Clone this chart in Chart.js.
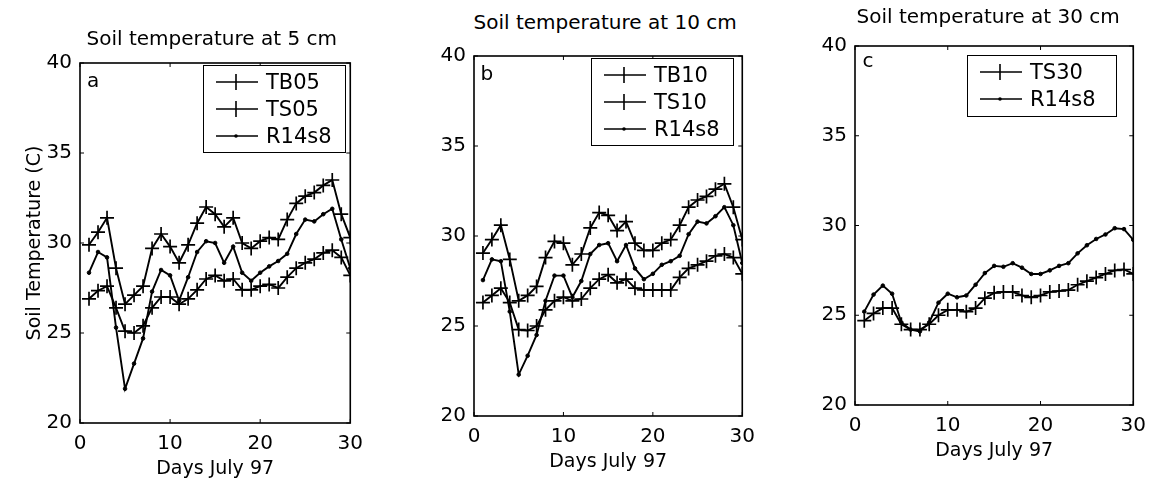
<!DOCTYPE html>
<html><head><meta charset="utf-8">
<script src="https://cdn.jsdelivr.net/npm/chart.js@4.4.0/dist/chart.umd.min.js"></script>
<style>
body{margin:0;background:#fff;width:1167px;height:491px;overflow:hidden;position:relative;font-family:"DejaVu Sans",sans-serif;color:#000}
canvas{position:absolute}
.t{position:absolute;font-size:20px;white-space:nowrap;line-height:24px}
.lg{position:absolute;border:1.5px solid #000;background:#fff;box-sizing:border-box}
.row{position:absolute;left:0;height:26px;width:100%}
.row svg{position:absolute;left:10px;top:0}
.row span{position:absolute;left:62px;top:0;font-size:21px;line-height:26px}
</style></head><body>
<script>
// ---- data ----
const days = [1,2,3,4,5,6,7,8,9,10,11,12,13,14,15,16,17,18,19,20,21,22,23,24,25,26,27,28,29,30];
const TB05 = [29.9,30.6,31.4,28.6,26.6,27.1,27.6,29.7,30.5,29.8,28.9,29.9,31.1,32.0,31.6,30.9,31.4,30.0,29.7,30.1,30.3,30.2,31.3,32.2,32.6,32.8,33.2,33.5,31.6,30.3];
const TS05 = [26.9,27.35,27.6,26.4,25.1,25.0,25.4,26.4,27.0,27.0,26.6,26.9,27.4,28.0,28.2,27.9,28.0,27.4,27.4,27.6,27.7,27.5,28.1,28.6,28.9,29.1,29.45,29.6,29.2,28.2];
const R14s8_5 = [28.35,29.5,29.2,25.3,21.9,23.3,24.7,27.3,28.5,28.2,26.8,28.1,29.5,30.1,30.0,28.9,29.8,28.35,27.9,28.35,28.7,29.0,29.4,30.5,31.3,31.2,31.6,31.9,30.2,28.6];
const TB10 = [29.05,29.8,30.6,28.7,26.4,26.7,27.2,28.8,29.7,29.6,28.4,29.0,30.45,31.3,31.15,30.3,30.8,29.6,29.2,29.2,29.6,29.8,30.6,31.6,32.0,32.2,32.6,32.9,31.6,29.8];
const TS10 = [26.3,26.7,27.1,26.3,24.8,24.75,25.0,25.9,26.4,26.6,26.4,26.5,27.1,27.6,27.85,27.4,27.6,27.1,27.0,27.0,27.0,27.0,27.7,28.2,28.4,28.6,28.9,29.0,28.8,27.9];
const R14s8_10 = [27.55,28.7,28.6,25.8,22.3,23.35,24.5,26.4,27.8,27.8,26.6,27.5,29.0,29.5,29.6,28.6,29.5,28.2,27.6,27.9,28.4,28.6,28.9,30.1,30.8,30.7,31.1,31.6,30.6,28.5];
const TS30 = [24.7,25.1,25.4,25.4,24.5,24.2,24.2,24.5,25.0,25.3,25.3,25.2,25.4,25.95,26.25,26.3,26.3,26.1,26.0,26.1,26.3,26.35,26.4,26.7,26.9,27.1,27.3,27.5,27.55,27.3];
const R14s8_30 = [25.2,26.15,26.65,26.2,24.6,24.2,24.1,24.6,25.7,26.2,26.0,26.1,26.7,27.35,27.75,27.7,27.9,27.65,27.3,27.3,27.5,27.75,27.9,28.45,28.9,29.25,29.5,29.85,29.8,29.2];
const xTicks = [0,10,20,30];
const yTicks = [20,25,30,35,40];
const titles = ['Soil temperature at 5 cm','Soil temperature at 10 cm','Soil temperature at 30 cm'];
const letters = ['a','b','c'];
const xLabel = 'Days July 97';
const yLabel = 'Soil Temperature (C)';

// ---- layout ----
const panels = [
  {plot:{l:80,t:63,w:272,h:360}, cl:0, title:{x:212,y:38}, letter:{x:93,y:80}, legend:{l:203,t:65,w:143,h:88},
   series:[['TB05',TB05,'cross'],['TS05',TS05,'cross'],['R14s8',R14s8_5,'dot']], yTitle:true},
  {plot:{l:474,t:56,w:270,h:360}, cl:400, title:{x:605,y:22}, letter:{x:487,y:73}, legend:{l:591,t:58,w:143,h:88},
   series:[['TB10',TB10,'cross'],['TS10',TS10,'cross'],['R14s8',R14s8_10,'dot']], yTitle:false},
  {plot:{l:855,t:46,w:280,h:359}, cl:790, title:{x:988,y:16}, letter:{x:868,y:60}, legend:{l:967,t:55,w:150,h:62},
   series:[['TS30',TS30,'cross'],['R14s8',R14s8_30,'dot']], yTitle:false}
];
const PT=20, XH=65;

const frame = {id:'frame', afterDraw(c){
  const {ctx, chartArea:a, scales:{x,y}} = c;
  ctx.save(); ctx.strokeStyle='#000'; ctx.lineWidth=1.6;
  ctx.strokeRect(a.left,a.top,a.right-a.left,a.bottom-a.top);
  ctx.lineWidth=1; ctx.beginPath();
  x.ticks.forEach(t=>{const p=x.getPixelForValue(t.value); ctx.moveTo(p,a.bottom); ctx.lineTo(p,a.bottom-4); ctx.moveTo(p,a.top); ctx.lineTo(p,a.top+4);});
  y.ticks.forEach(t=>{const p=y.getPixelForValue(t.value); ctx.moveTo(a.left,p); ctx.lineTo(a.left+4,p); ctx.moveTo(a.right,p); ctx.lineTo(a.right-4,p);});
  ctx.stroke(); ctx.restore();
}};

function addText(txt, x, y){
  const d=document.createElement('div'); d.className='t'; d.textContent=txt;
  document.body.appendChild(d);
  d.style.left=(x - d.offsetWidth/2)+'px';
  d.style.top=(y-12)+'px';
  return d;
}

function sampleSVG(kind){
  const marker = kind==='cross'
    ? '<line x1="22" y1="5" x2="22" y2="21" stroke="#000" stroke-width="1.6"/>'
    : '<circle cx="22" cy="13" r="1.8" fill="#000"/>';
  return '<svg width="44" height="26"><line x1="2" y1="13" x2="44" y2="13" stroke="#000" stroke-width="1.6"/>'+marker+'</svg>';
}

panels.forEach((p,i)=>{
  const cv=document.createElement('canvas');
  const YW=p.plot.l-p.cl;
  const PR=Math.min(20,1167-(p.plot.l+p.plot.w));
  const W=YW+p.plot.w+PR, H=PT+p.plot.h+XH;
  cv.width=W; cv.height=H; cv.style.width=W+'px'; cv.style.height=H+'px';
  cv.style.left=p.cl+'px'; cv.style.top=(p.plot.t-PT)+'px';
  document.body.appendChild(cv);
  const font={family:'"DejaVu Sans", sans-serif', size:20};
  new Chart(cv,{
    type:'line',
    data:{datasets:p.series.map(([name,arr,kind])=>({
      label:name,
      data:days.map((d,k)=>({x:d,y:arr[k]})),
      borderColor:'#000', backgroundColor:'#000', borderWidth:1.9, tension:0,
      pointStyle: kind==='cross'?'cross':'circle',
      pointRadius: kind==='cross'?7:1.8,
      pointBorderWidth: kind==='cross'?1.7:1,
      pointHoverRadius:0
    }))},
    options:{
      responsive:false, devicePixelRatio:1, animation:false,
      layout:{padding:{top:PT,right:PR,left:0,bottom:0}},
      plugins:{legend:{display:false},tooltip:{enabled:false}},
      scales:{
        x:{type:'linear',min:0,max:30,
           afterBuildTicks:s=>{s.ticks=xTicks.map(v=>({value:v}));},
           afterFit:s=>{s.height=XH;},
           grid:{display:false,drawTicks:false}, border:{display:false},
           ticks:{color:'#000',font,padding:9,maxRotation:0},
           title:{display:true,text:xLabel,color:'#000',font:{family:font.family,size:19},padding:{top:0,bottom:8}}},
        y:{type:'linear',min:20,max:40,
           afterBuildTicks:s=>{s.ticks=yTicks.map(v=>({value:v}));},
           afterFit:s=>{s.width=YW;},
           grid:{display:false,drawTicks:false}, border:{display:false},
           ticks:{color:'#000',font,padding:8},
           title:{display:p.yTitle,text:yLabel,color:'#000',font:{family:font.family,size:19},padding:{top:24,bottom:0}}}
      }
    },
    plugins:[frame]
  });
  addText(titles[i], p.title.x, p.title.y);
  addText(letters[i], p.letter.x, p.letter.y);
  const lg=document.createElement('div'); lg.className='lg';
  Object.assign(lg.style,{left:p.legend.l+'px',top:p.legend.t+'px',width:p.legend.w+'px',height:p.legend.h+'px'});
  p.series.forEach(([name,arr,kind],k)=>{
    const r=document.createElement('div'); r.className='row'; r.style.top=(3+k*27)+'px';
    r.innerHTML=sampleSVG(kind)+'<span>'+name+'</span>';
    lg.appendChild(r);
  });
  document.body.appendChild(lg);
});
</script>
</body></html>
